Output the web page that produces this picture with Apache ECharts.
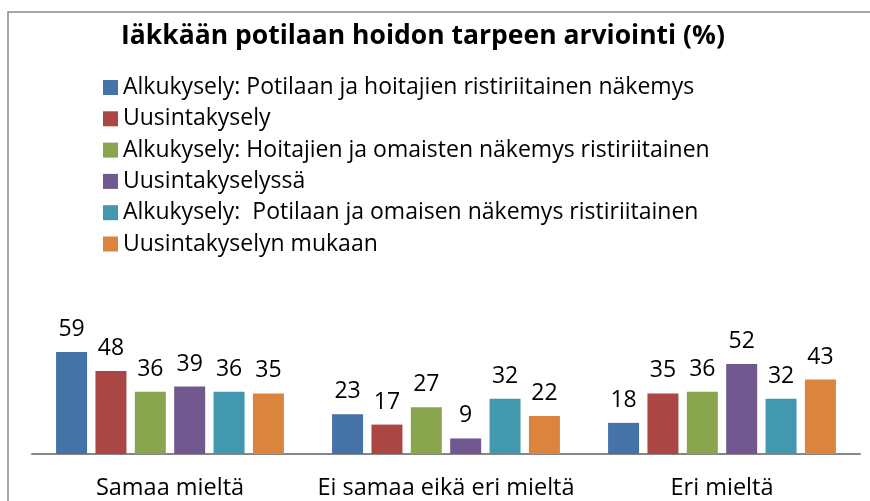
<!DOCTYPE html>
<html>
<head>
<meta charset="utf-8">
<script src="https://cdn.jsdelivr.net/npm/echarts@6/dist/echarts.min.js"></script>
<style>html,body{margin:0;padding:0;background:#fff;}#c{width:870px;height:501px;}</style>
</head>
<body>
<div id="c"></div>
<script>
const titleText = 'Iäkkään potilaan hoidon tarpeen arviointi (%)';
const categories = ['Samaa mieltä', 'Ei samaa eikä eri mieltä', 'Eri mieltä'];
const seriesNames = [
  'Alkukysely: Potilaan ja hoitajien ristiriitainen näkemys',
  'Uusintakysely',
  'Alkukysely: Hoitajien ja omaisten näkemys ristiriitainen',
  'Uusintakyselyssä',
  'Alkukysely:  Potilaan ja omaisen näkemys ristiriitainen',
  'Uusintakyselyn mukaan'
];
const s1 = [59, 23, 18];
const s2 = [48, 17, 35];
const s3 = [36, 27, 36];
const s4 = [39, 9, 52];
const s5 = [36, 32, 32];
const s6 = [35, 22, 43];
const seriesValues = [s1, s2, s3, s4, s5, s6];
const colors = ['#4572A7', '#AA4643', '#89A54E', '#71588F', '#4198AF', '#DB843D'];

const FONT = 'Open Sans';
const chart = echarts.init(document.getElementById('c'));
chart.setOption({
  animation: false,
  color: colors,
  title: {
    text: titleText,
    left: 116,
    top: 18,
    textStyle: { fontFamily: FONT, fontWeight: 'bold', fontSize: 26.5, color: '#000' }
  },
  legend: {
    orient: 'vertical',
    left: 98,
    top: 71,
    icon: 'rect',
    itemWidth: 15,
    itemHeight: 15,
    itemGap: 8.3,
    textStyle: { fontFamily: FONT, fontSize: 23, color: '#000' },
    data: seriesNames
  },
  grid: { left: 32, right: 10, top: 281, bottom: 47 },
  xAxis: {
    type: 'category',
    data: categories,
    axisLine: { lineStyle: { color: '#868686', width: 2 } },
    axisTick: { show: false },
    axisLabel: { fontFamily: FONT, fontSize: 23.5, color: '#000', margin: 22, interval: 0 }
  },
  yAxis: { type: 'value', min: 0, max: 100, show: false, splitLine: { show: false } },
  graphic: [{
    type: 'rect',
    shape: { x: 8, y: 12, width: 900, height: 600 },
    style: { fill: 'none', stroke: '#8a8a8a', lineWidth: 1.5 },
    silent: true
  }],
  series: seriesNames.map((n, i) => ({
    name: n,
    type: 'bar',
    data: seriesValues[i],
    barWidth: 31,
    barGap: '27%',
    label: { show: true, position: 'top', distance: 11, fontFamily: FONT, fontSize: 23, color: '#000' }
  }))
});
</script>
</body>
</html>
